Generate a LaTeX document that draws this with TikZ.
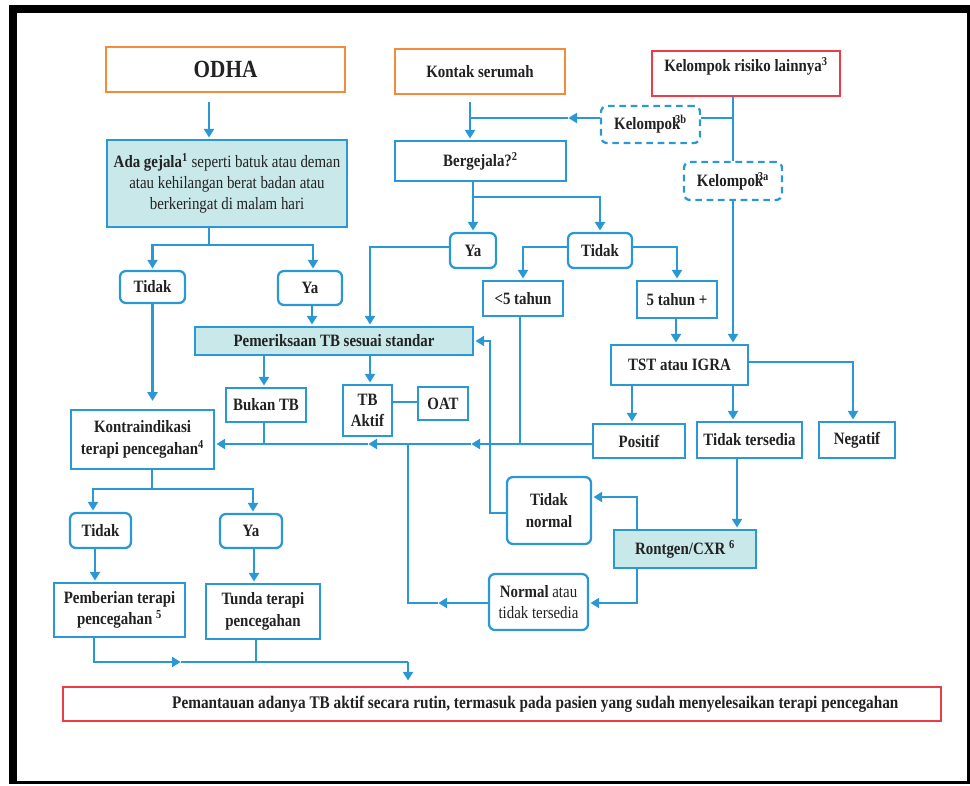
\documentclass[tikz,border=0pt]{standalone}
\usepackage{fontspec}
\setmainfont{Liberation Serif}[FakeStretch=0.86]
\usetikzlibrary{arrows.meta}
\definecolor{bl}{HTML}{2B98D6}
\definecolor{org}{HTML}{F28C3A}
\definecolor{rd}{HTML}{EE3B48}
\definecolor{cf}{HTML}{C9E8EA}
\definecolor{tx}{HTML}{222222}
\tikzset{
  sz/.style 2 args={minimum width=#1*0.75pt, minimum height=#2*0.75pt},
  box/.style={draw=bl, line width=1.7pt, fill=white, align=center, inner sep=1pt, text=tx,
     font=\bfseries\fontsize{13}{16}\selectfont},
  rbox/.style={box, rounded corners=4.5pt},
  dbox/.style={rbox, dashed, dash pattern=on 5pt off 3.5pt},
  obox/.style={box, draw=org},
  redbox/.style={box, draw=rd},
  fbox/.style={box, fill=cf},
  ln/.style={draw=bl, line width=1.7pt},
  arr/.style={ln, -{Triangle[width=7.5pt,length=6.5pt]}, shorten >=1pt},
}
\begin{document}
\begin{tikzpicture}[x=0.75pt,y=-0.75pt]
% frame
\fill[white] (0,0) rectangle (970,785);
\useasboundingbox (0,0) rectangle (970,785);
\fill[black] (9,5) rectangle (970,784);
\fill[white] (17,13) rectangle (967,781);

% nodes
\node[obox, sz={239}{45}, font=\bfseries\fontsize{18.5}{20}\selectfont] (odha) at (225.5,69.5) {ODHA};
\node[obox, sz={170}{45}] (kontak) at (480,71.5) {Kontak serumah};
\node[redbox, sz={188}{45}] (risiko) at (746,73.5) {Kelompok risiko lainnya\textsuperscript{3}\\[-2pt]};
\node[dbox, sz={99}{37}] (k3b) at (650.5,124.5) {Kelompok\textsuperscript{\kern-4pt 3b}};
\node[dbox, sz={98}{38}] (k3a) at (733,181) {Kelompok\textsuperscript{\kern-4pt 3a}};
\node[box, sz={171}{40}] (berg) at (480.5,161) {Bergejala?\textsuperscript{2}};
\node[fbox, sz={240}{87}, font=\mdseries\fontsize{13}{15.75}\selectfont] (gejala) at (227,183.5)
  {\textbf{Ada gejala}\textsuperscript{\textbf{1}} seperti batuk atau deman\\atau kehilangan berat badan atau\\berkeringat di malam hari};
\node[rbox, sz={46}{35}] (yaB) at (473,250.5) {Ya};
\node[rbox, sz={64}{35}] (tidakB) at (600,250.5) {Tidak};
\node[rbox, sz={65}{32}] (tidakL) at (152.5,287) {Tidak};
\node[rbox, sz={64}{34}] (yaL) at (310,288) {Ya};
\node[box, sz={80}{35}] (lt5) at (523,298.5) {<5 tahun};
\node[box, sz={80}{37}] (ge5) at (677,299.5) {5 tahun +};
\node[fbox, sz={278}{28}] (pem) at (334,341) {Pemeriksaan TB sesuai standar};
\node[box, sz={137}{40}] (tst) at (679.5,365) {TST atau IGRA};
\node[box, sz={80}{34}] (bukan) at (266,405) {Bukan TB};
\node[box, sz={49}{51}] (tbaktif) at (367.5,410.5) {TB\\Aktif};
\node[box, sz={50}{33}] (oat) at (443,403.5) {OAT};
\node[box, sz={143}{59}] (kontra) at (142.5,439.5) {Kontraindikasi\\terapi pencegahan\textsuperscript{4}};
\node[box, sz={92}{34}] (positif) at (639,441) {Positif};
\node[box, sz={105}{36}] (ttersedia) at (749.5,440) {Tidak tersedia};
\node[box, sz={76}{36}] (negatif) at (857,440) {Negatif};
\node[rbox, sz={84}{67}] (tnormal) at (549,510.5) {Tidak\\normal};
\node[fbox, sz={142}{38}] (rontgen) at (685,549) {Rontgen/CXR \textsuperscript{6}};
\node[rbox, sz={99}{56}, font=\mdseries\fontsize{13}{16}\selectfont] (normal) at (538.5,602) {\textbf{Normal} atau\\tidak tersedia};
\node[rbox, sz={61}{35}] (tidakK) at (100.5,530.5) {Tidak};
\node[rbox, sz={62}{34}] (yaK) at (251,531) {Ya};
\node[box, sz={131}{54}] (pemberian) at (119.5,610) {Pemberian terapi\\pencegahan \textsuperscript{5}};
\node[box, sz={114}{55}] (tunda) at (263,611.5) {Tunda terapi\\pencegahan};
\node[redbox, sz={878}{34}, font=\bfseries\fontsize{13.3}{16}\selectfont] (pemantauan) at (502,704) {\kern50pt Pemantauan adanya TB aktif secara rutin, termasuk pada pasien yang sudah menyelesaikan terapi pencegahan};

% connectors
\draw[arr, shorten <=6.75pt] (odha.south -| 209,0) -- (gejala.north -| 209,0);
\draw[arr, shorten <=5pt] (kontak.south -| 470,0) -- (berg.north -| 470,0);
\draw[ln] (risiko.south -| 733,0) -- (k3a.north -| 733,0);
\draw[ln] (733,118) -- (k3b.east |- 0,118);
\draw[arr] (k3b.west |- 0,118) -- (567,118);
\draw[ln] (568,118) -- (470,118);
\draw[arr] (k3a.south) -- (tst.north -| 733,0);
\draw[arr] (berg.south -| 473,0) -- (yaB.north -| 473,0);
\draw[arr] (473,197) -| (tidakB.north);
\draw[arr] (yaB.west |- 0,247) -| (pem.north -| 370,0);
\draw[arr] (tidakB.west |- 0,247) -| (lt5.north);
\draw[arr] (tidakB.east |- 0,247) -| (ge5.north);
\draw[ln] (gejala.south -| 209,0) -- (209,245);
\draw[arr] (209,245) -| (tidakL.north);
\draw[arr] (209,245) -| (yaL.north -| 313,0);
\draw[arr] (yaL.south -| 312,0) -- (pem.north -| 312,0);
\draw[arr, shorten >=6pt] (tidakL.south) -- (kontra.north -| 152.5,0);
\draw[arr] (pem.south -| 264,0) -- (bukan.north -| 264,0);
\draw[arr] (pem.south -| 370,0) -- (tbaktif.north -| 370,0);
\draw[ln] (tbaktif.east |- 0,402) -- (oat.west |- 0,402);
\draw[arr] (ge5.south -| 676,0) -- (tst.north -| 676,0);
\draw[arr] (tst.south -| 632,0) -- (positif.north -| 632,0);
\draw[arr] (tst.south -| 733,0) -- (ttersedia.north -| 733,0);
\draw[arr] (tst.east |- 0,362) -| (negatif.north -| 853,0);
\draw[arr] (positif.west |- 0,444) -- (470,444);
\draw[arr] (471,444) -- (367,444);
\draw[arr] (368,444) -- (kontra.east |- 0,444);
\draw[ln] (lt5.south -| 520,0) -- (520,444);
\draw[ln] (bukan.south -| 264,0) -- (264,444);
\draw[arr] (normal.west |- 0,603) -- (437,603);
\draw[ln] (438,603) -- (408,603) -- (408,444);
\draw[arr] (tnormal.west |- 0,513) -| (490,341) -- (pem.east |- 0,341);
\draw[arr] (ttersedia.south -| 737,0) -- (rontgen.north -| 737,0);
\draw[arr] (rontgen.north -| 637,0) |- (tnormal.east |- 0,497);
\draw[arr] (rontgen.south -| 637,0) |- (normal.east |- 0,603);
\draw[ln] (kontra.south -| 152,0) -- (152,489);
\draw[arr] (152,489) -| (tidakK.north -| 93,0);
\draw[arr] (152,489) -| (yaK.north -| 253,0);
\draw[arr] (tidakK.south -| 95,0) -- (pemberian.north -| 95,0);
\draw[arr] (yaK.south -| 254,0) -- (tunda.north -| 254,0);
\draw[arr] (pemberian.south -| 94,0) |- (182,662);
\draw[ln] (181,662) -- (408,662);
\draw[arr, shorten >=4pt] (408,662) -- (pemantauan.north -| 408,0);
\draw[ln] (tunda.south -| 256,0) -- (256,662);
\end{tikzpicture}
\end{document}
